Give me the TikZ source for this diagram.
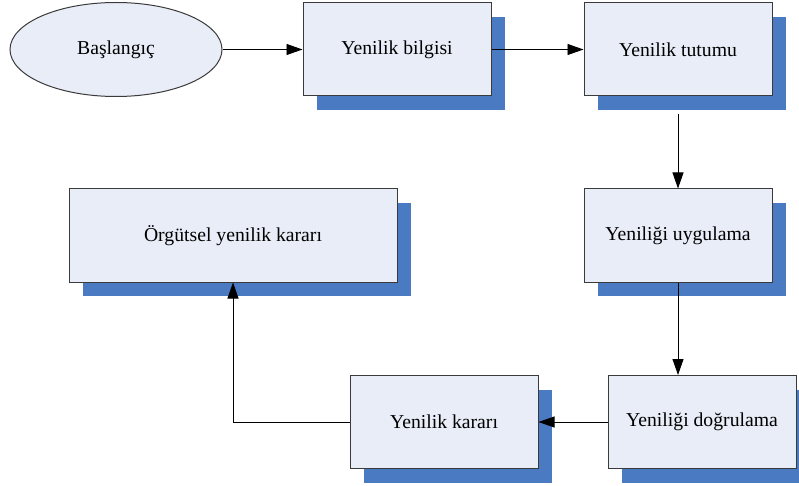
\documentclass[tikz,border=0pt]{standalone}
\usepackage{fontspec}
\setmainfont{Liberation Serif}
\usetikzlibrary{arrows.meta,shapes.geometric,calc}
\definecolor{boxfill}{HTML}{E8EDF7}
\definecolor{shadowblue}{HTML}{4A7AC2}
\definecolor{edgegray}{HTML}{3A3A3A}
\tikzset{
  stepbox/.style={rectangle,draw=edgegray,fill=boxfill,line width=1pt,
    minimum width=188pt,minimum height=93pt,inner sep=0pt,
    font=\fontsize{19.7}{23}\selectfont},
  wideb/.style={stepbox,minimum width=328pt},
  startshape/.style={ellipse,draw=edgegray,fill=boxfill,line width=1pt,
    minimum width=212pt,minimum height=94pt,inner sep=0pt,
    font=\fontsize{19.7}{23}\selectfont},
  link/.style={draw=black,line width=0.95pt,-{Triangle[length=16pt,width=11pt]}}
}
\begin{document}
\begin{tikzpicture}[x=1pt,y=-1pt]
\useasboundingbox (0,0) rectangle (799,486);
\clip (0,0) rectangle (799,486);
% start ellipse and the centres of the step boxes
\path
  (116,49.5)  node[startshape] (start) {Başlangıç}
  (397,49.5)  coordinate (c1)
  (678,49.5)  coordinate (c2)
  (678,235.5) coordinate (c3)
  (702,422)   coordinate (c4)
  (444,422)   coordinate (c5)
  (233,235.5) coordinate (c6);
% drop shadows, offset 14 right and 14 down
\foreach \c/\w in {c1/188,c2/188,c3/188,c4/188,c5/188,c6/328}{
  \fill[shadowblue] ($(\c)+(-\w/2+14,-46.5+14)$) rectangle ($(\c)+(\w/2+14,46.5+14)$);
}
% boxes
\node[stepbox] (bilgi)   at (c1) {Yenilik bilgisi};
\node[stepbox] (tutum)   at (c2) {Yenilik tutumu};
\node[stepbox] (uygula)  at (c3) {Yeniliği uygulama};
\node[stepbox] (dogrula) at (c4) {Yeniliği doğrulama};
\node[stepbox] (karar)   at (c5) {Yenilik kararı};
\node[wideb]   (orgut)   at (c6) {Örgütsel yenilik kararı};
% connectors
\coordinate (tutumout) at ([yshift=-18pt]tutum.south);
\draw[link] (start.east) -- (bilgi.west);
\draw[link] (bilgi.east) -- (tutum.west);
\draw[link] (tutumout) -- (uygula.north);
\draw[link] (uygula.south) -- (uygula.south |- dogrula.north);
\draw[link] (dogrula.west) -- (karar.east);
\draw[link] (karar.west) -| (orgut.south);
\end{tikzpicture}
\end{document}
